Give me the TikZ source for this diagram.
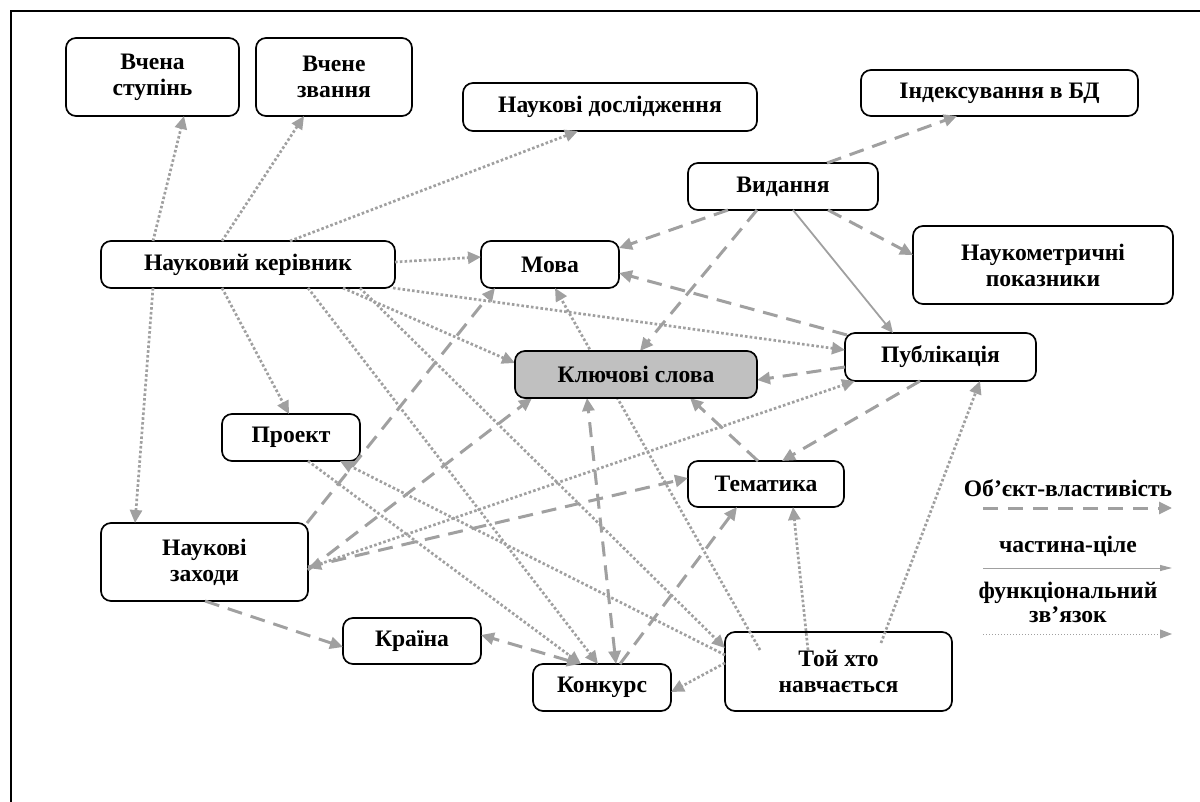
\documentclass[tikz,border=0pt]{standalone}
\usepackage{fontspec}
\setmainfont{Liberation Serif}
\usetikzlibrary{arrows.meta,calc}
\pgfdeclarelayer{fg}
\pgfsetlayers{main,fg}
\definecolor{edgegray}{RGB}{160,160,160}
\definecolor{ksgray}{RGB}{192,192,192}
\begin{document}
\begin{tikzpicture}[x=0.5pt,y=-0.5pt,
  box/.style={draw=black, line width=0.85pt, rounded corners=5pt, fill=white, align=center,
    font=\fontsize{11.8}{13}\selectfont\bfseries, inner sep=2pt},
  lbl/.style={align=center, font=\fontsize{11.8}{12}\selectfont\bfseries, inner sep=0pt},
  ed/.style={draw=edgegray, line width=1.5pt, dash pattern=on 7.5pt off 4.5pt, -{Triangle[length=6.5pt,width=6pt]}},
  edboth/.style={draw=edgegray, line width=1.5pt, dash pattern=on 7.5pt off 4.5pt, {Triangle[length=6.5pt,width=6pt]}-{Triangle[length=6.5pt,width=6pt]}},
  fd/.style={draw=edgegray, line width=1.35pt, dash pattern=on 1.3pt off 1.1pt, -{Triangle[length=6.5pt,width=6pt]}},
  fdboth/.style={draw=edgegray, line width=1.35pt, dash pattern=on 1.3pt off 1.1pt, {Triangle[length=6.5pt,width=6pt]}-{Triangle[length=6.5pt,width=6pt]}},
  pd/.style={draw=edgegray, line width=0.9pt, -{Triangle[length=6pt,width=5.5pt]}},
  legdash/.style={draw=edgegray, line width=1.5pt, dash pattern=on 7.5pt off 5pt, -{Triangle[length=6.5pt,width=6pt]}},
  legsolid/.style={draw=edgegray, line width=0.5pt, -{Triangle[length=6pt,width=3pt]}},
  legdot/.style={draw=edgegray, line width=0.5pt, dash pattern=on 0.5pt off 1pt, -{Triangle[length=6pt,width=4.5pt]}}
]
\useasboundingbox (0,0) rectangle (1200,802);
\draw[line width=1pt] (11,802) -- (11,11) -- (1200,11);

% nodes
\node[box, minimum width=86.5pt, minimum height=39pt] (vs) at (152.5,77) {Вчена\\ступінь};
\node[box, minimum width=78pt, minimum height=39pt] (vz) at (334,77) {Вчене\\звання};
\node[box, minimum width=147pt, minimum height=24pt] (nd) at (610,107) {Наукові дослідження};
\node[box, minimum width=138.5pt, minimum height=23pt] (ind) at (999.5,93) {Індексування в БД};
\node[box, minimum width=95pt, minimum height=23.5pt] (vyd) at (783,186.5) {Видання};
\node[box, minimum width=130pt, minimum height=39pt] (nmp) at (1043,265) {Наукометричні\\показники};
\node[box, minimum width=147pt, minimum height=23.5pt] (nk) at (248,264.5) {Науковий керівник};
\node[box, minimum width=69pt, minimum height=23.5pt] (mova) at (550,264.5) {Мова};
\begin{pgfonlayer}{fg}
\node[box, fill=ksgray, minimum width=121pt, minimum height=23.5pt] (ks) at (636,374.5) {Ключові слова};
\end{pgfonlayer}
\node[box, minimum width=95.5pt, minimum height=24pt] (pub) at (940.5,357) {Публікація};
\node[box, minimum width=69pt, minimum height=23.5pt] (proj) at (291,437.5) {Проект};
\node[box, minimum width=78pt, minimum height=23pt] (tem) at (766,484) {Тематика};
\node[box, minimum width=103.5pt, minimum height=39pt] (nz) at (204.5,562) {Наукові\\заходи};
\node[box, minimum width=69pt, minimum height=23pt] (kr) at (412,641) {Країна};
\node[box, minimum width=69pt, minimum height=23.5pt] (kon) at (602,687.5) {Конкурс};
\node[box, minimum width=113.5pt, minimum height=39.5pt] (tkh) at (838.5,671.5) {Той хто\\навчається};

% functional (dotted) connectors
\draw[fd] ($(nk.center)+(-95,-23.5)$) -- ($(vs.center)+(31.5,39)$);
\draw[fd] ($(nk.center)+(-26,-23.5)$) -- ($(vz.center)+(-30,39)$);
\draw[fd] ($(nk.center)+(42,-23.5)$) -- ($(nd.center)+(-32,24)$);
\draw[fd] ($(nk.center)+(147,-2.5)$) -- ($(mova.center)+(-69,-7.5)$);
\draw[fd] ($(nk.center)+(95,23.5)$) -- ($(ks.center)+(-121,-11.5)$);
\draw[fd] ($(nk.center)+(145,23.5)$) -- ($(pub.center)+(-95.5,-7)$);
\draw[fd] ($(nk.center)+(-26,23.5)$) -- ($(proj.center)+(-2,-23.5)$);
\draw[fd] ($(nk.center)+(-95,23.5)$) -- ($(nz.center)+(-69.5,-39)$);
\draw[fd] ($(nk.center)+(60,23.5)$) -- ($(kon.center)+(-4,-23.5)$);
\draw[fd] ($(nk.center)+(112,23.5)$) -- ($(tkh.center)+(-113.5,-23.5)$);
\draw[fd] ($(tkh.center)+(-113.5,-16.5)$) -- ($(proj.center)+(49,23.5)$);
\draw[fd] ($(proj.center)+(17,23.5)$) -- ($(kon.center)+(-21,-23.5)$);
\draw[fd] ($(tkh.center)+(-113.5,-8.5)$) -- ($(kon.center)+(69,4.5)$);
\draw[fd] ($(tkh.center)+(-78.5,-21.5)$) -- ($(mova.center)+(5,23.5)$);
\draw[fd] ($(tkh.center)+(-30.5,-21.5)$) -- ($(tem.center)+(27,23)$);
\draw[fd] ($(tkh.center)+(42.5,-28.5)$) -- ($(pub.center)+(39.5,24)$);
\draw[fdboth] ($(nz.center)+(103.5,6)$) -- ($(pub.center)+(-85.5,24)$);

% object-property (dashed) connectors
\draw[ed] ($(vyd.center)+(44,-23.5)$) -- ($(ind.center)+(-42.5,23)$);
\draw[ed] ($(vyd.center)+(45,23.5)$) -- ($(nmp.center)+(-130,-10)$);
\draw[ed] ($(vyd.center)+(-55,23.5)$) -- ($(mova.center)+(69,-16.5)$);
\draw[ed] ($(vyd.center)+(-26,23.5)$) -- ($(ks.center)+(4,-23.5)$);
\draw[ed] ($(pub.center)+(-93.5,-22)$) -- ($(mova.center)+(69,8.5)$);
\draw[ed] ($(pub.center)+(-95.5,10)$) -- ($(ks.center)+(121,5.5)$);
\draw[ed] ($(pub.center)+(-20.5,24)$) -- ($(tem.center)+(16,-23)$);
\draw[ed] ($(tem.center)+(-8,-23)$) -- ($(ks.center)+(54,23.5)$);
\draw[ed] ($(nz.center)+(102.5,-39)$) -- ($(mova.center)+(-55,23.5)$);
\draw[ed] ($(nz.center)+(103.5,8)$) -- ($(ks.center)+(-104,23.5)$);
\draw[ed] ($(nz.center)+(103.5,5)$) -- ($(tem.center)+(-78,-6)$);
\draw[ed] ($(nz.center)+(0.5,39)$) -- ($(kr.center)+(-69,6)$);
\draw[edboth] ($(kon.center)+(-22,-23.5)$) -- ($(kr.center)+(69,-6)$);
\draw[ed] ($(kon.center)+(18,-23.5)$) -- ($(tem.center)+(-29,23)$);
\draw[edboth] ($(kon.center)+(14,-23.5)$) -- ($(ks.center)+(-49,23.5)$);

% part-whole (solid)
\draw[pd] ($(vyd.center)+(10,23.5)$) -- ($(pub.center)+(-47.5,-24)$);

% legend
\node[lbl] (l1) at (1068,488) {Об’єкт-властивість};
\node[lbl] (l2) at (1068,546) {частина-ціле};
\node[lbl] (l3) at (1068,602) {функціональний\\зв’язок};
\coordinate (l1a) at (983,508); \coordinate (l1b) at (1172,508);
\coordinate (l2a) at (983,568); \coordinate (l2b) at (1172,568);
\coordinate (l3a) at (983,634); \coordinate (l3b) at (1172,634);
\draw[legdash] (l1a) -- (l1b);
\draw[legsolid] (l2a) -- (l2b);
\draw[legdot] (l3a) -- (l3b);
\end{tikzpicture}
\end{document}
